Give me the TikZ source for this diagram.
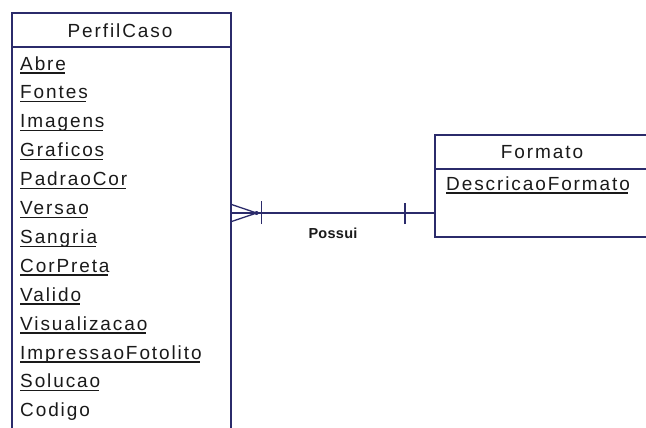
\documentclass[tikz,border=0pt]{standalone}
\usepackage{fontspec}
\setmainfont{Liberation Sans}[LetterSpace=10]
\newfontfamily\relfont{Liberation Sans}[LetterSpace=2]
\begin{document}
\definecolor{erline}{HTML}{2B2B6B}
\definecolor{ertext}{HTML}{1A1A1A}
% underlined attribute name with a fixed underline depth
\newcommand\keyattr[1]{\setbox0\hbox{#1}\rlap{\rule[-3.5bp]{\dimexpr\wd0-1.5bp\relax}{1.4bp}}\box0}
\begin{tikzpicture}[x=1bp,y=-1bp,
  entity/.style={draw=erline,line width=1.6bp,rectangle,inner sep=0pt,anchor=north west},
  sepline/.style={draw=erline,line width=1.4bp},
  relline/.style={draw=erline,line width=1.6bp},
  title/.style={inner sep=0pt,anchor=base,text=ertext,font=\fontsize{19bp}{22bp}\selectfont},
  attr/.style={inner sep=0pt,anchor=base west,text=ertext,font=\fontsize{19bp}{22bp}\selectfont},
  rellabel/.style={inner sep=0pt,anchor=base,text=ertext,font=\relfont\bfseries\fontsize{14.5bp}{18bp}\selectfont}]
\clip (0,0) rectangle (646,427);
\fill[white] (0,0) rectangle (646,427);

% entity PerfilCaso (runs past the lower edge)
\node[entity,minimum width=219bp,minimum height=440bp] (perfil) at (11,12) {};
\draw[sepline] (11,47) -- (230,47);
\node[title] (perfilname) at (120,37) {PerfilCaso};
\foreach \name [count=\i from 0] in {Abre,Fontes,Imagens,Graficos,PadraoCor,Versao,Sangria,CorPreta,Valido,Visualizacao,ImpressaoFotolito,Solucao}
  \node[attr] (pa\i) at (20,{70+28.9*\i}) {\keyattr{\name}};
\node[attr] (pcodigo) at (20,{70+28.9*12}) {Codigo};

% entity Formato (runs past the right edge)
\node[entity,minimum width=240bp,minimum height=102bp] (formato) at (434,134) {};
\draw[sepline] (434,169) -- (674,169);
\node[title] (formatoname) at (542,158) {Formato};
\node[attr] (fdesc) at (446,190) {\keyattr{DescricaoFormato}};

% relationship Possui: many PerfilCaso to one Formato
\coordinate (relrow) at (0,213);
\coordinate (pend) at (perfil.east |- relrow);
\coordinate (fend) at (formato.west |- relrow);
\draw[relline] (pend) -- (fend);
\draw[relline,line width=1.3bp] ([yshift=-8.5bp]pend) -- ([xshift=25bp]pend) -- ([yshift=8.5bp]pend);
\fill[erline] ([xshift=25bp]pend) circle (2bp);
\draw[relline,line width=1.4bp] ([xshift=30bp,yshift=-11bp]pend) -- ([xshift=30bp,yshift=12bp]pend);
\draw[relline,line width=1.4bp] ([xshift=-29bp,yshift=-11bp]fend) -- ([xshift=-29bp,yshift=10bp]fend);
\node[rellabel] (possui) at (333,238) {Possui};
\end{tikzpicture}
\end{document}
